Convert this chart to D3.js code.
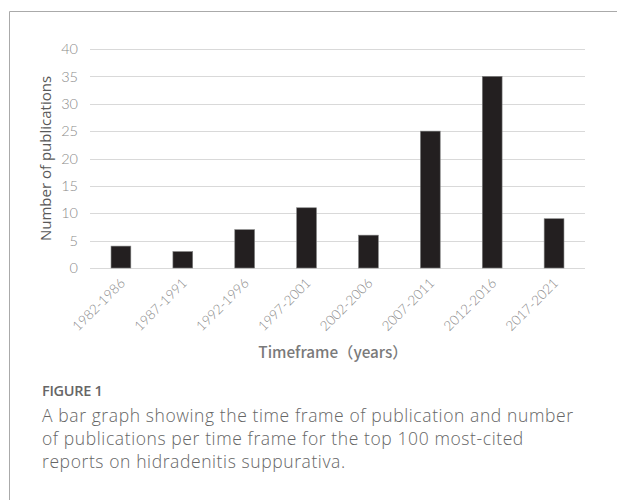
<!DOCTYPE html>
<html><head><meta charset="utf-8">
<script src="https://cdn.jsdelivr.net/npm/d3@7"></script>
<style>html,body{margin:0;padding:0;background:#fff;}</style>
</head><body>
<svg id="c" width="617" height="500"></svg>
<script>
const categories = ["1982-1986","1987-1991","1992-1996","1997-2001","2002-2006","2007-2011","2012-2016","2017-2021"];
const values = [4,3,7,11,6,25,35,9];
const yTicks = [0,5,10,15,20,25,30,35,40];
const captionTitle = "FIGURE 1";
const captionLines = ["A bar graph showing the time frame of publication and number",
  "of publications per time frame for the top 100 most-cited",
  "reports on hidradenitis suppurativa."];

const svg = d3.select("#c");
// frame
svg.append("path").attr("d","M9.5,500 V11.5 H617").attr("fill","none").attr("stroke","#aaa").attr("stroke-width",1);

const x = d3.scaleBand().domain(categories).range([90,585]).paddingInner(0.68).paddingOuter(0.34);
const y = d3.scaleLinear().domain([0,40]).range([268,49]);

// gridlines
svg.append("g").selectAll("line").data(yTicks).join("line")
  .attr("x1",90).attr("x2",585).attr("y1",d=>Math.round(y(d))+0.5).attr("y2",d=>Math.round(y(d))+0.5)
  .attr("stroke","#d9d9d9").attr("stroke-width",1);

// y axis labels
const yAxis = d3.axisLeft(y).tickValues(yTicks).tickSize(0).tickPadding(0);
const gy = svg.append("g").attr("transform","translate(78,0)").call(yAxis);
gy.select(".domain").remove();
gy.selectAll("text").attr("font-family","Lato, 'Open Sans', sans-serif").attr("font-weight",300)
  .attr("font-size",14.5).attr("fill","#8a8a8a");

// bars
svg.append("g").selectAll("rect").data(values).join("rect")
  .attr("x",(d,i)=>x(categories[i])).attr("width",x.bandwidth())
  .attr("y",d=>y(d)).attr("height",d=>y(0)-y(d))
  .attr("fill","#231f20").attr("stroke","#808080").attr("stroke-width",0.6);

// x labels
svg.append("g").selectAll("text").data(categories).join("text")
  .attr("transform",d=>`translate(${x(d)+x.bandwidth()/2+5},284) rotate(-45)`)
  .attr("text-anchor","end")
  .attr("font-family","Lato, 'Open Sans', sans-serif").attr("font-weight",300)
  .attr("font-size",13.5).attr("fill","#8a8a8a").text(d=>d);

// axis titles
svg.append("text").attr("transform","translate(51,158.5) rotate(-90)").attr("text-anchor","middle")
  .attr("font-family","'Open Sans', sans-serif").attr("font-size",15).attr("fill","#595959")
  .text("Number of publications");
svg.append("text").attr("x",333).attr("y",358).attr("text-anchor","middle")
  .attr("font-family","'Noto Sans CJK SC', 'Open Sans', sans-serif").attr("font-weight",500).attr("font-size",15.3).attr("fill","#7a7a7a")
  .text("Timeframe（years）");

// caption
svg.append("text").attr("x",42).attr("y",396)
  .attr("font-family","'Open Sans', sans-serif").attr("font-weight",600).attr("font-size",14.5).attr("fill","#666")
  .attr("letter-spacing","-0.3").text(captionTitle);
const cap = svg.append("g").selectAll("text").data(captionLines).join("text")
  .attr("x",42).attr("y",(d,i)=>422+i*23)
  .attr("font-family","'Open Sans', sans-serif").attr("font-weight",300)
  .attr("font-size",17.5).attr("fill","#666").text(d=>d);
// fit first line width to reference span
const w0 = cap.node().getComputedTextLength();
const ls = (531 - w0) / (captionLines[0].length - 1);
cap.attr("letter-spacing", ls.toFixed(3));
</script>
</body></html>
